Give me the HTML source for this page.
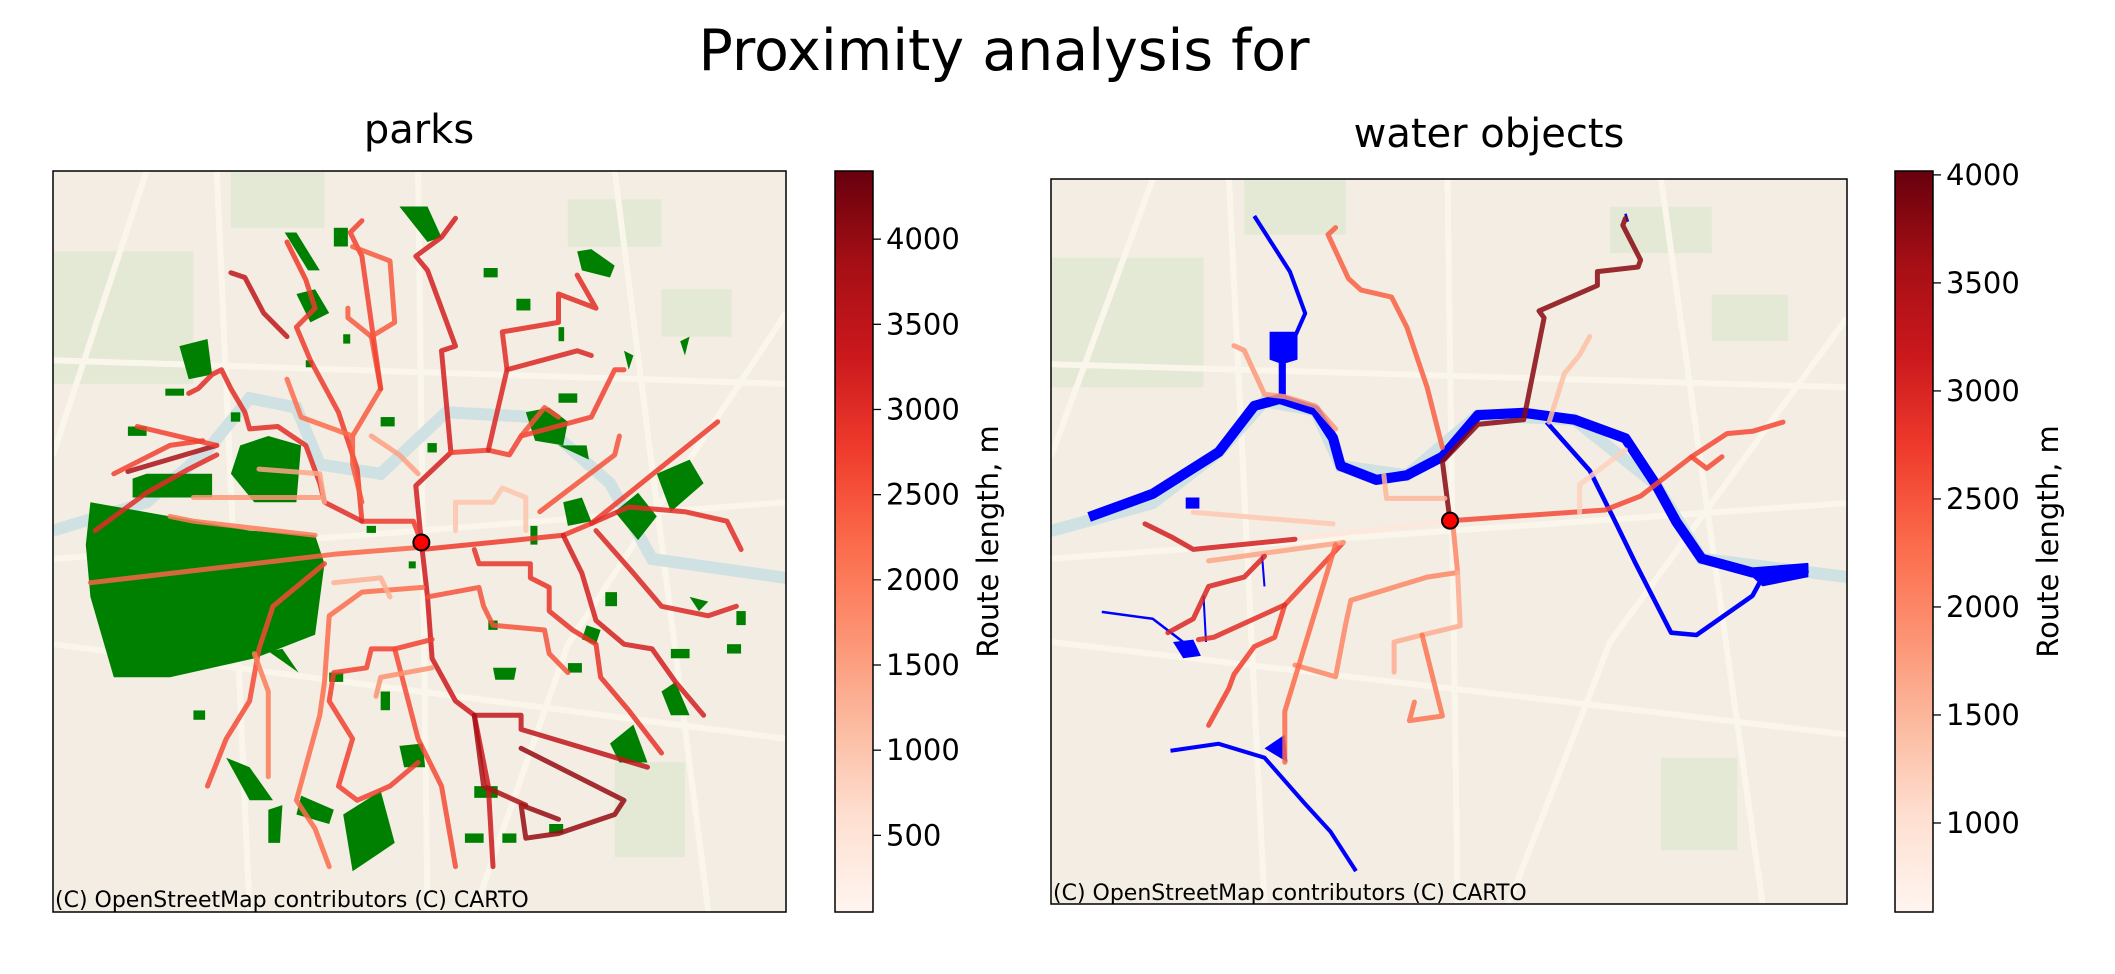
<!DOCTYPE html>
<html><head><meta charset="utf-8">
<style>
body{margin:0;background:#fff;}
svg{display:block;font-family:"DejaVu Sans","Liberation Sans",sans-serif;}
</style></head>
<body>
<svg id="fig" width="2115" height="974" viewBox="0 0 2115 974" xmlns="http://www.w3.org/2000/svg">
<defs>
<linearGradient id="reds" x1="0" y1="1" x2="0" y2="0">
<stop offset="0" stop-color="#fff5f0"/><stop offset="0.125" stop-color="#fee0d2"/><stop offset="0.25" stop-color="#fcbba1"/><stop offset="0.375" stop-color="#fc9272"/><stop offset="0.5" stop-color="#fb6a4a"/><stop offset="0.625" stop-color="#ef3b2c"/><stop offset="0.75" stop-color="#cb181d"/><stop offset="0.875" stop-color="#a50f15"/><stop offset="1" stop-color="#67000d"/>
</linearGradient>
<clipPath id="clipL"><rect x="53" y="171" width="733" height="741"/></clipPath>
<clipPath id="clipR"><rect x="1051" y="179" width="796" height="725"/></clipPath>
</defs>
<text x="1004" y="70" font-size="57" text-anchor="middle">Proximity analysis for</text>
<text x="419" y="143" font-size="40" text-anchor="middle">parks</text>
<text x="1489" y="147" font-size="40" text-anchor="middle">water objects</text>
<g id="mapL" clip-path="url(#clipL)"></g>
<g id="mapR" clip-path="url(#clipR)"></g>
<rect x="53" y="171" width="733" height="741" fill="none" stroke="#000" stroke-width="1.5"/>
<rect x="1051" y="179" width="796" height="725" fill="none" stroke="#000" stroke-width="1.5"/>
<text x="55" y="907" font-size="22">(C) OpenStreetMap contributors (C) CARTO</text>
<text x="1053" y="900" font-size="22">(C) OpenStreetMap contributors (C) CARTO</text>
<g id="cbL"></g>
<g id="cbR"></g>
</svg>
<script>
// ---------- data ----------
const cbTicksL = [500,1000,1500,2000,2500,3000,3500,4000];
const cbTicksR = [1000,1500,2000,2500,3000,3500,4000];
const cbRangeL = [50,4400];
const cbRangeR = [588,4018];

// left map: parks (map units 0..1566)
const parkPolys = [
 [[70,790],[80,700],[250,730],[420,760],[560,770],[580,830],[560,980],[430,1030],[250,1070],[130,1070],[80,900]],
 [[380,640],[400,580],[460,560],[530,580],[520,700],[430,700]],
 [[170,650],[200,640],[340,640],[340,690],[170,690]],
 [[270,370],[330,355],[340,430],[290,440]],
 [[520,260],[560,250],[590,300],[550,320]],
 [[495,130],[520,130],[570,210],[545,210]],
 [[740,75],[800,75],[830,140],[800,150]],
 [[1120,170],[1150,165],[1200,200],[1190,225],[1130,210]],
 [[1010,510],[1060,500],[1100,530],[1090,580],[1030,570]],
 [[1090,700],[1130,690],[1150,740],[1100,750]],
 [[1200,720],[1250,680],[1290,730],[1250,780]],
 [[1290,640],[1360,610],[1390,660],[1320,720]],
 [[1190,1210],[1240,1170],[1270,1250],[1210,1250]],
 [[1300,1100],[1330,1080],[1360,1150],[1320,1150]],
 [[620,1360],[700,1310],[730,1420],[640,1480]],
 [[370,1240],[420,1260],[470,1330],[420,1330]],
 [[530,1320],[600,1350],[590,1380],[520,1360]],
 [[740,1215],[790,1210],[795,1260],[750,1260]],
 [[460,1350],[490,1340],[485,1420],[460,1420]],
 [[1340,360],[1360,350],[1350,390]],[[1220,380],[1240,390],[1230,420]],
 [[1080,580],[1140,580],[1145,610]],[[460,1015],[490,1010],[525,1060]],
 [[1140,960],[1170,970],[1160,1000],[1130,990]],[[1360,900],[1400,910],[1380,930]],
 [[1100,1040],[1130,1040],[1130,1060],[1100,1060]],[[940,1050],[990,1050],[985,1075],[945,1075]]
];
const parkRects = [[600,120,30,40],[990,270,30,25],[1080,330,12,30],[700,520,30,20],[800,575,20,20],[670,750,20,15],[760,825,15,15],[1020,750,15,40],[900,1300,50,25],[960,1400,30,20],[880,1400,40,20],[1060,1380,30,20],[300,1140,25,20],[590,1060,30,20],[700,1100,20,40],[1440,1000,30,20],[1460,930,20,30],[1180,890,25,30],[930,950,20,20],[920,205,30,20],[620,345,15,20],[540,400,15,15],[1320,1010,40,20],[380,510,20,20],[1080,470,40,20],[160,540,40,20],[240,460,40,15]];

const routesL = [
 {len:3200,pts:[[787,785],[775,665],[850,595],[830,380],[860,370],[800,210],[775,180],[830,140],[860,100]]},
 {len:3300,pts:[[787,785],[800,900],[810,1030],[860,1120],[900,1150],[930,1300],[940,1470]]},
 {len:2800,pts:[[787,800],[1090,770],[1150,745],[1420,530]]},
 {len:2300,pts:[[787,795],[600,810],[80,870]]},
 {len:2700,pts:[[850,595],[930,590],[975,600],[1000,560],[1150,520],[1200,420],[1220,420]]},
 {len:3100,pts:[[930,590],[970,420],[1120,380],[1150,390]]},
 {len:3000,pts:[[970,420],[960,340],[1080,320],[1080,260],[1160,290],[1120,220]]},
 {len:2500,pts:[[1000,560],[1050,500],[1080,520]]},
 {len:3200,pts:[[1090,770],[1130,850],[1160,950],[1220,1000],[1280,1010],[1330,1080],[1390,1150]]},
 {len:3000,pts:[[1150,745],[1230,710],[1350,720],[1440,740],[1470,800]]},
 {len:3100,pts:[[1160,760],[1240,850],[1300,920],[1400,940],[1460,920]]},
 {len:2500,pts:[[800,900],[910,880],[920,920],[940,960],[1050,970],[1060,1020],[1100,1060]]},
 {len:2900,pts:[[900,800],[910,830],[1020,830],[1020,860],[1060,880],[1060,930],[1110,970],[1160,1000],[1170,1070],[1230,1140],[1300,1230]]},
 {len:3500,pts:[[900,1150],[1000,1150],[1000,1180],[1270,1260]]},
 {len:4000,pts:[[1000,1220],[1220,1330],[1200,1360],[1080,1400],[1010,1410],[1000,1340],[1080,1370]]},
 {len:3800,pts:[[900,1150],[920,1300],[1010,1340]]},
 {len:2700,pts:[[810,990],[730,1010],[680,1010],[670,1050],[600,1060],[590,1120],[640,1200],[610,1300],[650,1330],[720,1300],[780,1250]]},
 {len:2600,pts:[[730,1010],[780,1200],[830,1300],[860,1470]]},
 {len:1700,pts:[[810,1050],[700,1070],[690,1110]]},
 {len:2200,pts:[[790,880],[660,890],[590,940],[580,1080],[570,1150],[520,1330],[560,1390],[590,1470]]},
 {len:2600,pts:[[580,830],[470,920],[440,1010],[420,1120],[370,1200],[330,1300]]},
 {len:2000,pts:[[430,1020],[460,1100],[460,1280]]},
 {len:2800,pts:[[787,785],[770,740],[660,740],[650,630],[610,510],[550,400],[520,330],[560,290],[540,230],[500,150]]},
 {len:3000,pts:[[660,740],[580,700],[570,660],[540,580],[480,540],[420,545],[410,510],[380,460],[360,420],[340,430],[310,460],[290,470]]},
 {len:2400,pts:[[660,700],[640,620],[640,560],[700,460],[680,350],[630,310],[630,290]]},
 {len:2200,pts:[[640,560],[530,520],[500,440]]},
 {len:1500,pts:[[780,640],[740,600],[680,560]]},
 {len:2700,pts:[[700,460],[660,180],[635,130],[660,105]]},
 {len:2400,pts:[[680,350],[730,320],[720,190],[640,160]]},
 {len:3500,pts:[[500,350],[450,300],[410,225],[380,215]]},
 {len:2000,pts:[[560,770],[300,740],[250,730]]},
 {len:1600,pts:[[570,690],[300,690]]},
 {len:3800,pts:[[350,580],[160,635]]},
 {len:2700,pts:[[350,580],[180,540]]},
 {len:2700,pts:[[320,570],[250,580],[130,640]]},
 {len:3000,pts:[[350,600],[290,630],[200,680],[90,760]]},
 {len:1400,pts:[[440,630],[570,640],[580,700]]},
 {len:1000,pts:[[860,760],[860,700],[940,700],[960,670],[1010,690],[1010,760]]},
 {len:2500,pts:[[1040,720],[1200,600],[1210,560]]},
 {len:1300,pts:[[600,870],[700,860],[720,900]]}
];
const originL = [787,785];

// right map: water objects
const riversR = [
 {w:20,pts:[[75,730],[200,680],[330,590],[400,490],[450,475],[520,500],[555,560],[570,620],[640,650],[700,640],[770,600],[840,510],[930,505],[1030,520],[1130,560],[1190,660],[1230,740],[1280,820],[1380,850],[1490,840]]},
 {w:8,pts:[[400,80],[470,200],[500,290],[480,340]]},
 {w:14,pts:[[455,380],[455,470]]},
 {w:9,pts:[[975,525],[1060,630],[1110,740],[1150,830],[1220,980],[1270,985],[1380,900],[1400,860]]},
 {w:8,pts:[[235,1235],[330,1220],[420,1250],[500,1350],[550,1410],[600,1495]]},
 {w:5,pts:[[100,935],[200,950],[260,1000]]},
 {w:5,pts:[[1130,75],[1135,92]]},
 {w:4,pts:[[415,810],[420,880]]},
 {w:4,pts:[[300,900],[305,1000]]}
];
const lakesR = [[[430,330],[485,330],[485,390],[455,400],[430,390]],[[265,688],[292,688],[292,712],[265,712]],[[240,1000],[280,995],[295,1030],[260,1035]],[[1380,860],[1490,830],[1490,860],[1400,880]],[[420,1230],[460,1200],[465,1260]]];
const routesR = [
 {len:3800,pts:[[785,738],[770,610],[840,530],[930,520],[970,300],[960,285],[1075,230],[1075,200],[1155,190],[1160,175],[1125,100],[1130,85]]},
 {len:2400,pts:[[770,580],[740,450],[700,320],[670,255],[610,240],[585,215],[545,120],[560,105]]},
 {len:2600,pts:[[785,738],[1090,715],[1160,685],[1260,600],[1330,550],[1380,545],[1440,525]]},
 {len:2600,pts:[[1260,600],[1290,625],[1320,600]]},
 {len:900,pts:[[785,738],[480,778]]},
 {len:3100,pts:[[480,778],[280,800],[240,775],[185,745]]},
 {len:2000,pts:[[790,740],[800,850],[740,860],[590,910],[580,960],[560,1075],[480,1050]]},
 {len:1600,pts:[[800,850],[805,965],[730,985],[675,1000],[675,1065]]},
 {len:2200,pts:[[730,985],[770,1160],[705,1170],[715,1130]]},
 {len:2700,pts:[[575,785],[460,920],[440,990],[400,1010],[360,1070],[350,1100],[310,1180]]},
 {len:1700,pts:[[575,785],[310,825]]},
 {len:2900,pts:[[460,920],[320,990],[290,995]]},
 {len:3000,pts:[[420,815],[380,860],[310,880],[280,950],[230,980]]},
 {len:1300,pts:[[280,720],[555,745]]},
 {len:2300,pts:[[560,790],[460,1150],[460,1260]]},
 {len:1400,pts:[[980,525],[1010,420],[1040,380],[1060,340]]},
 {len:1200,pts:[[1130,585],[1040,660],[1040,720]]},
 {len:1800,pts:[[360,360],[380,370],[420,465],[460,470],[520,490],[560,540]]},
 {len:1500,pts:[[655,640],[660,690],[775,690]]}
];
const originR = [785,738];

// ---------- rendering ----------
const NS="http://www.w3.org/2000/svg";
const stops=[[0,[255,245,240]],[0.125,[254,224,210]],[0.25,[252,187,161]],[0.375,[252,146,114]],[0.5,[251,106,74]],[0.625,[239,59,44]],[0.75,[203,24,29]],[0.875,[165,15,21]],[1,[103,0,13]]];
function reds(t){t=Math.max(0,Math.min(1,t));for(let i=1;i<stops.length;i++){if(t<=stops[i][0]){const a=stops[i-1],b=stops[i],f=(t-a[0])/(b[0]-a[0]);return 'rgb('+a[1].map((v,k)=>Math.round(v+(b[1][k]-v)*f)).join(',')+')';}}return 'rgb(103,0,13)';}
function mk(tag,attrs,parent){const e=document.createElementNS(NS,tag);for(const k in attrs)e.setAttribute(k,attrs[k]);parent.appendChild(e);return e;}
function axis(x0,y0,w,h){return {x:v=>x0+v/1566*w,y:v=>y0+v/1566*h,s:w/1566};}
function ptsStr(ax,pts){return pts.map(p=>ax.x(p[0]).toFixed(1)+','+ax.y(p[1]).toFixed(1)).join(' ');}

function basemap(g,ax,x0,y0,w,h){
 let r=mk('rect',{x:x0,y:y0,width:w,height:h,fill:'#f3ede3'},g);
 
 
 const greens=[[0,170,300,280],[380,0,200,120],[1100,60,200,100],[1300,250,150,100],[1200,1250,150,200]];
 greens.forEach(b=>{let e=mk('rect',{x:ax.x(b[0]),y:ax.y(b[1]),width:b[2]*ax.s,height:b[3]*ax.s*h/w,fill:'#dfe7cf',opacity:0.8},g);
 
 });
 const roads=[[[0,820],[1566,700]],[[0,1000],[1566,1200]],[[350,0],[420,1566]],[[780,0],[800,1566]],[[1566,300],[1100,1000],[900,1566]],[[0,400],[1566,450]],[[200,0],[0,600]],[[1200,0],[1400,1566]]];
 roads.forEach(p=>{let e=mk('polyline',{points:ptsStr(ax,p),fill:'none',stroke:'#fbf6ec',"stroke-width":6},g);
 
 });
 let riv=mk('polyline',{points:ptsStr(ax,[[0,760],[200,700],[330,590],[420,480],[520,500],[570,620],[700,640],[840,510],[1030,520],[1190,660],[1280,820],[1566,860]]),fill:'none',stroke:'#cfe1e3',"stroke-width":12},g);
 
 
}

function drawRoutes(g,ax,routes,range,width){
 routes.forEach(rt=>{const t=(rt.len-range[0])/(range[1]-range[0]);
  let e=mk('polyline',{points:ptsStr(ax,rt.pts),fill:'none',stroke:reds(t),"stroke-width":width,"stroke-linejoin":"round","stroke-linecap":"round",opacity:0.85},g);
  
  });
}
function drawOrigin(g,ax,o){let c=mk('circle',{cx:ax.x(o[0]),cy:ax.y(o[1]),r:8,fill:'#ff0000',stroke:'#000',"stroke-width":2},g);
 
 }

// left
const gL=document.getElementById('mapL');const axL=axis(53,171,733,741);
basemap(gL,axL,53,171,733,741);
parkPolys.forEach(p=>{let e=mk('polygon',{points:ptsStr(axL,p),fill:'#008000'},gL);
 
 });
parkRects.forEach(b=>{let e=mk('rect',{x:axL.x(b[0]),y:axL.y(b[1]),width:b[2]*axL.s,height:b[3]*axL.s,fill:'#008000'},gL);
 
 });
drawRoutes(gL,axL,routesL,cbRangeL,5);
drawOrigin(gL,axL,originL);

// right
const gR=document.getElementById('mapR');const axR=axis(1051,179,796,725);
basemap(gR,axR,1051,179,796,725);
riversR.forEach(rv=>{let e=mk('polyline',{points:ptsStr(axR,rv.pts),fill:'none',stroke:'#0000ff',"stroke-width":rv.w*axR.s,"stroke-linejoin":"round"},gR);
 
 });
lakesR.forEach(p=>{let e=mk('polygon',{points:ptsStr(axR,p),fill:'#0000ff'},gR);
 
 });
drawRoutes(gR,axR,routesR,cbRangeR,5);
drawOrigin(gR,axR,originR);

// colorbars
function colorbar(id,x,y0,y1,range,ticks){
 const g=document.getElementById(id);const w=38;
 const yv=v=>y1-(v-range[0])/(range[1]-range[0])*(y1-y0);
 let r=mk('rect',{x:x,y:y0,width:w,height:y1-y0,fill:'url(#reds)',stroke:'#000',"stroke-width":1.5},g);
 
 
 ticks.forEach(v=>{const y=yv(v);
  let l=mk('line',{x1:x+w,x2:x+w+8,y1:y,y2:y,stroke:'#000',"stroke-width":1.3},g);
  
  
  let t=mk('text',{x:x+w+13,y:y+10,"font-size":29},g);t.textContent=String(v);
  
  });
 const cy=(y0+y1)/2, lx=x+163;
 let t=mk('text',{x:lx,y:cy,"font-size":29,"text-anchor":"middle",transform:'rotate(-90 '+lx+' '+cy+')'},g);
 t.textContent='Route length, m';
 
 
}
colorbar('cbL',835,171,912,cbRangeL,cbTicksL);
colorbar('cbR',1895,171,912,cbRangeR,cbTicksR);
</script>
</body></html>
